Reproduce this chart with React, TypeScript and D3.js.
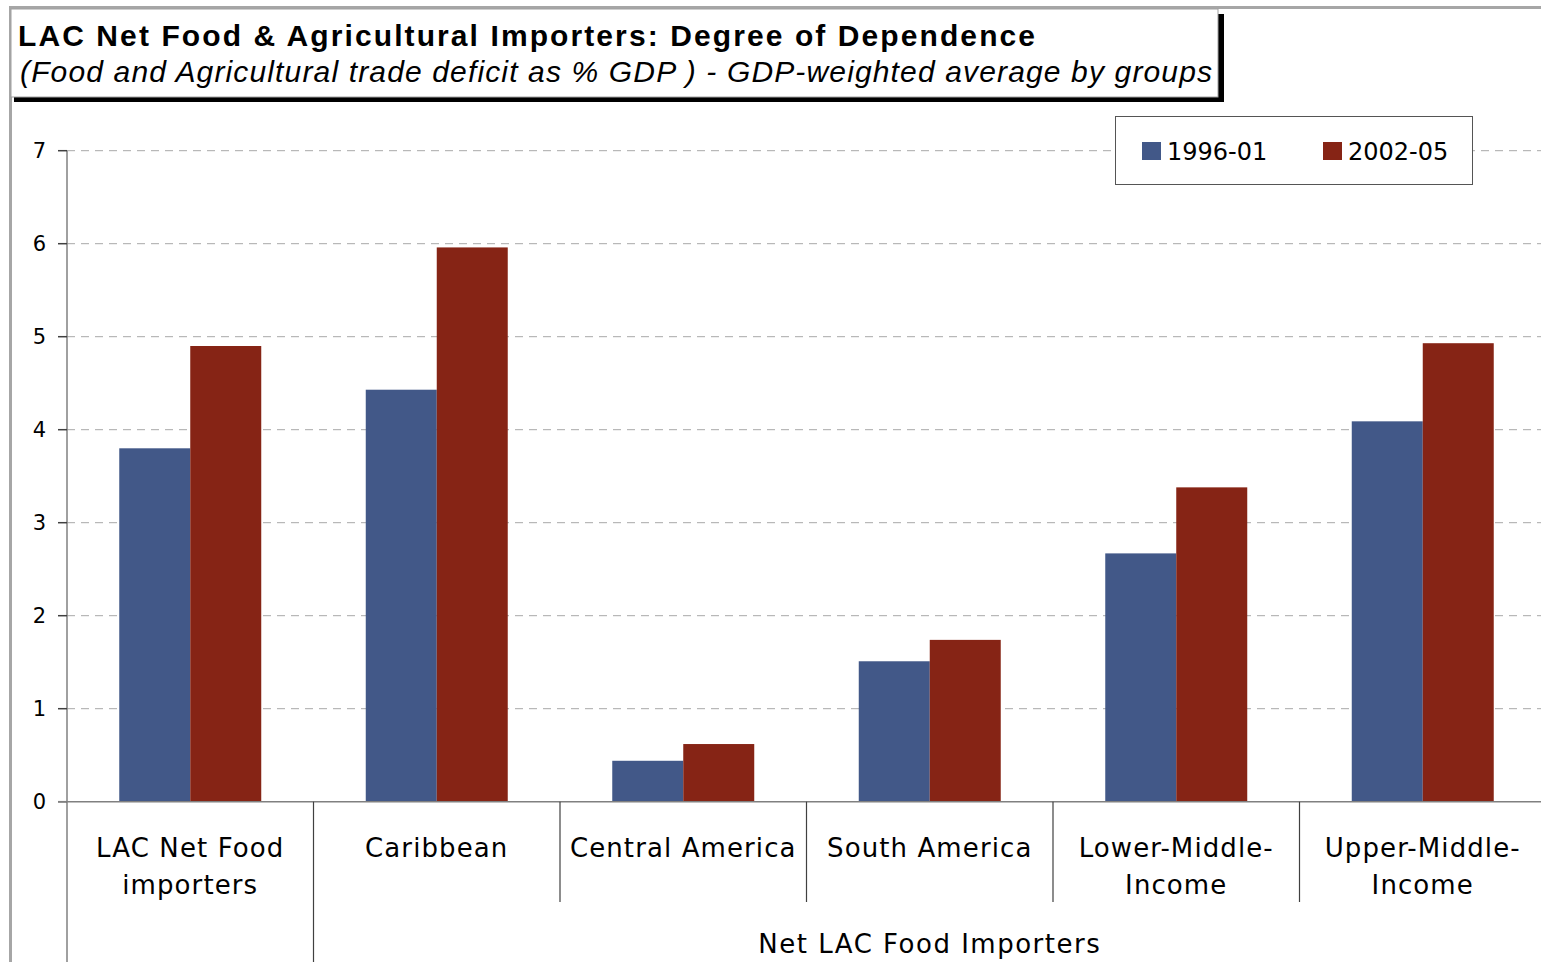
import React from "react";
import * as d3 from "d3";

const categories: string[][] = [
  ["LAC Net Food", "importers"],
  ["Caribbean"],
  ["Central America"],
  ["South America"],
  ["Lower-Middle-", "Income"],
  ["Upper-Middle-", "Income"],
];
const seriesNames = ["1996-01", "2002-05"];
const values1996 = [3.8, 4.43, 0.44, 1.51, 2.67, 4.09];
const values2002 = [4.9, 5.96, 0.62, 1.74, 3.38, 4.93];
const yTicks = [0, 1, 2, 3, 4, 5, 6, 7];
const groupLabel = "Net LAC Food Importers";
const title = "LAC Net Food & Agricultural Importers: Degree of Dependence";
const subtitle = "(Food and Agricultural trade deficit as % GDP ) - GDP-weighted average by groups";

const colors = ["#425888", "#862415"];

export default function App() {
  const W = 1541;
  const H = 962;
  const left = 67;
  const right = 1546;
  const y0 = 801.7;
  const yTop = 150.7;

  const idx = categories.map((_, i) => String(i));
  const x = d3.scaleBand<string>().domain(idx).range([left, right]).paddingInner(0).paddingOuter(0);
  const bw = x.bandwidth();
  const xs = d3.scaleBand<string>().domain(seriesNames).range([0, bw]).paddingInner(0).paddingOuter(0.736);
  const y = d3.scaleLinear().domain([0, 7]).range([y0, yTop]);
  const data = [values1996, values2002];

  const font = "'DejaVu Sans', Verdana, sans-serif";

  return (
    <svg width={W} height={H} style={{ position: "absolute", left: 0, top: 0, background: "#fff" }}>
      <rect x={0} y={0} width={W} height={H} fill="#fff" />
      {/* outer frame */}
      <line x1={10} x2={W} y1={7.5} y2={7.5} stroke="#a6a6a6" strokeWidth={3} />
      <line x1={10.5} x2={10.5} y1={6} y2={H} stroke="#a6a6a6" strokeWidth={3} />

      {/* gridlines */}
      {yTicks.filter((t) => t > 0).map((t) => (
        <line key={"g" + t} x1={left} x2={W} y1={y(t)} y2={y(t)} stroke="#a8a8a8" strokeWidth={1} strokeDasharray="8,6" />
      ))}

      {/* bars */}
      {data.map((vals, s) =>
        vals.map((v, i) => (
          <rect
            key={"b" + s + "-" + i}
            x={(x(String(i)) as number) + (xs(seriesNames[s]) as number)}
            y={y(v)}
            width={xs.bandwidth()}
            height={y0 - y(v)}
            fill={colors[s]}
          />
        ))
      )}

      {/* y axis */}
      <line x1={left} x2={left} y1={yTop} y2={H} stroke="#808080" strokeWidth={1.5} />
      {yTicks.map((t) => (
        <g key={"t" + t}>
          <line x1={left - 9} x2={left} y1={y(t)} y2={y(t)} stroke="#404040" strokeWidth={1.5} />
          <text x={46} y={y(t) + 7.5} textAnchor="end" fontFamily={font} fontSize={21} fill="#000">
            {t}
          </text>
        </g>
      ))}

      {/* x axis */}
      <line x1={left - 9} x2={right} y1={y0} y2={y0} stroke="#808080" strokeWidth={1.5} />
      {idx.slice(1).map((k, i) => (
        <line
          key={"s" + k}
          x1={x(k) as number}
          x2={x(k) as number}
          y1={y0}
          y2={i === 0 ? H : 902}
          stroke="#404040"
          strokeWidth={1.2}
        />
      ))}
      {categories.map((lines, i) => (
        <text key={"c" + i} textAnchor="middle" fontFamily={font} fontSize={26} fill="#000" letterSpacing={1.1}>
          {lines.map((ln, j) => (
            <tspan key={j} x={(x(String(i)) as number) + bw / 2} y={857 + j * 37}>
              {ln}
            </tspan>
          ))}
        </text>
      ))}
      <text
        x={((x("1") as number) + right) / 2}
        y={953}
        textAnchor="middle"
        fontFamily={font}
        fontSize={26}
        fill="#000"
        letterSpacing={1.5}
      >
        {groupLabel}
      </text>

      {/* title box */}
      <rect x={14} y={14} width={1210} height={88} fill="#000" />
      <rect x={11} y={9} width={1207} height={88} fill="#fff" stroke="#a0a0a0" strokeWidth={1} />
      <text x={18} y={46} fontFamily="'Liberation Sans', Arial, sans-serif" fontWeight="bold" fontSize={30} fill="#000" textLength={1017} lengthAdjust="spacing">
        {title}
      </text>
      <text x={20} y={82} fontFamily="'Liberation Sans', Arial, sans-serif" fontStyle="italic" fontSize={30} fill="#000" textLength={1192} lengthAdjust="spacing">
        {subtitle}
      </text>

      {/* legend */}
      <rect x={1115.5} y={116.5} width={357} height={68} fill="#fff" stroke="#555" strokeWidth={1} />
      {seriesNames.map((n, s) => (
        <g key={"l" + s}>
          <rect x={1142 + s * 181} y={142} width={19} height={18} fill={colors[s]} />
          <text x={1167 + s * 181} y={160} fontFamily={font} fontSize={24} fill="#000">
            {n}
          </text>
        </g>
      ))}
    </svg>
  );
}
